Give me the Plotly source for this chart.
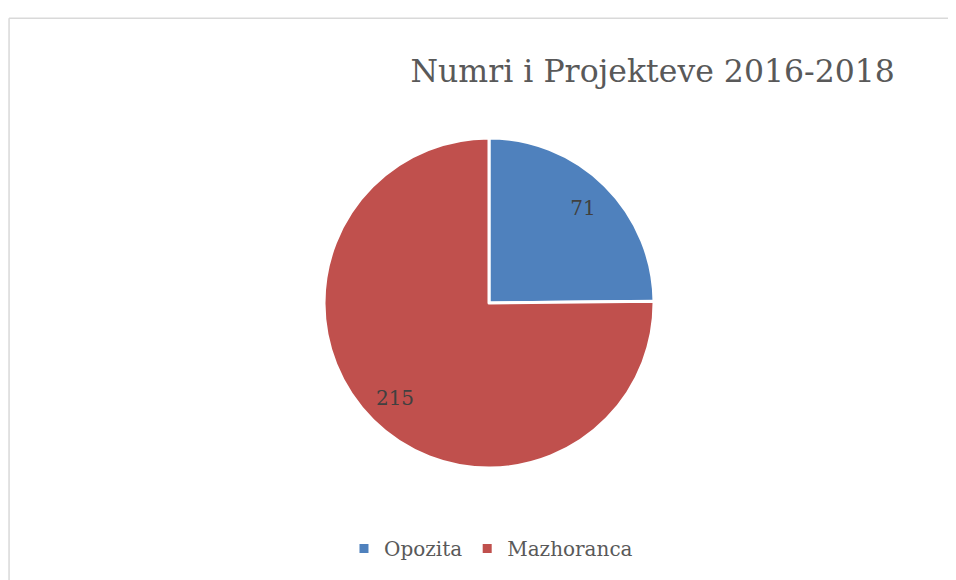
import plotly.graph_objects as go

# Të dhënat
kategorite = ["Opozita", "Mazhoranca"]
vlerat = [71, 215]
ngjyrat = ["#4F81BD", "#C0504D"]

fig = go.Figure()

# Pita kryesore
fig.add_trace(go.Pie(
    labels=kategorite,
    values=vlerat,
    sort=False,
    direction="clockwise",
    rotation=0,
    marker=dict(colors=ngjyrat, line=dict(color="white", width=3)),
    textinfo="none",
    hoverinfo="label+value",
))

# Shtresë transparente vetëm për etiketat (i shtyn vlerat drejt skajit)
fig.add_trace(go.Pie(
    labels=kategorite,
    values=vlerat,
    sort=False,
    direction="clockwise",
    rotation=0,
    hole=0.62,
    showlegend=False,
    marker=dict(colors=["rgba(0,0,0,0)"] * len(vlerat)),
    textinfo="value",
    textposition="inside",
    insidetextorientation="horizontal",
    textfont=dict(family="DejaVu Serif", size=20, color="#404040"),
    hoverinfo="skip",
))

# Kuadri i grafikut (vetëm majtas dhe lart)
fig.add_shape(type="line", xref="paper", yref="paper",
              x0=-0.225, x1=1.3, y0=1.363, y1=1.363,
              line=dict(color="#d9d9d9", width=1.5))
fig.add_shape(type="line", xref="paper", yref="paper",
              x0=-0.225, x1=-0.225, y0=1.363, y1=-0.4,
              line=dict(color="#d9d9d9", width=1.5))

fig.update_layout(
    width=948,
    height=572,
    margin=dict(l=150, r=136, t=130, b=109),
    paper_bgcolor="white",
    plot_bgcolor="white",
    title=dict(
        text="Numri i Projekteve 2016-2018",
        x=0.680, xanchor="center",
        y=0.890, yanchor="middle",
        font=dict(family="DejaVu Serif", size=31.5, color="#595959"),
    ),
    legend=dict(
        orientation="h",
        x=0.503, xanchor="center",
        y=-0.244, yanchor="middle",
        itemwidth=30,
        font=dict(family="DejaVu Serif", size=20, color="#595959"),
    ),
    showlegend=True,
)

fig.write_html("out.html")
